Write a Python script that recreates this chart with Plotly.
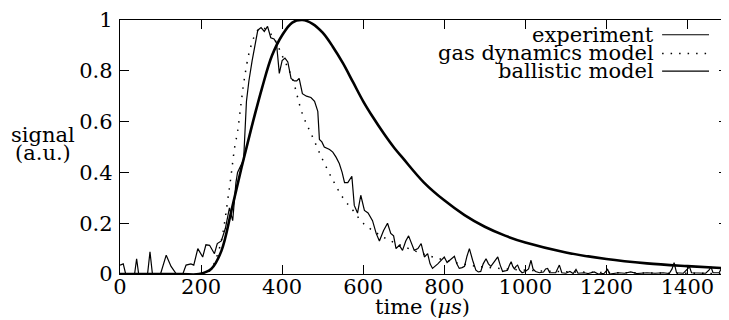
import plotly.graph_objects as go

# ---------------- data ----------------
exp_t = [0, 8, 14, 30, 36, 41, 46, 62, 68, 74, 80, 100, 106, 114, 126, 139, 155,
         163, 175, 182, 192, 204, 212, 221, 233, 240, 250, 260, 270, 278, 286, 290,
         299, 305, 312, 318, 326, 333, 340, 348, 356, 364, 372, 380, 386, 393, 400,
         407, 414, 422, 430, 436, 442, 450, 460, 471, 480, 488, 492, 498, 504, 517,
         525, 533, 541, 548, 554, 562, 572, 578, 586, 594, 603, 612, 623, 632, 640,
         650, 660, 668, 675, 681, 689, 697, 705, 712, 719, 726, 735, 743, 751, 759,
         765, 771, 784, 792, 800, 807, 813, 819, 825, 831, 837, 844, 850, 856, 862,
         870, 878, 884, 890, 896, 903, 909, 915, 924, 932, 938, 944, 950, 956, 961,
         965, 969, 973, 977, 981, 986, 992, 1000, 1008, 1014, 1019, 1025, 1035, 1045,
         1050, 1055, 1060, 1075, 1084, 1090, 1100, 1110, 1118, 1125, 1130, 1145, 1155,
         1170, 1180, 1195, 1203, 1208, 1230, 1245, 1260, 1275, 1300, 1320, 1340, 1355,
         1362, 1367, 1373, 1390, 1400, 1405, 1410, 1430, 1445, 1453, 1458, 1463, 1478,
         1483, 1488, 1500]
exp_y = [0.035, 0.04, 0.0, 0.0, 0.0, 0.06, 0.0, 0.0, 0.0, 0.087, 0.0, 0.0, 0.03, 0.074, 0.03, 0.0, 0.0,
         0.035, 0.04, 0.035, 0.10, 0.067, 0.115, 0.113, 0.08, 0.12, 0.13, 0.18, 0.26, 0.21, 0.36, 0.40,
         0.43, 0.45, 0.68, 0.76, 0.84, 0.90, 0.96, 0.97, 0.955, 0.975, 0.93, 0.925, 0.91, 0.79, 0.84,
         0.85, 0.835, 0.77, 0.76, 0.76, 0.77, 0.71, 0.70, 0.695, 0.68, 0.64, 0.53, 0.52, 0.50, 0.49,
         0.48, 0.46, 0.435, 0.40, 0.36, 0.36, 0.385, 0.27, 0.24, 0.31, 0.25, 0.24, 0.21, 0.16, 0.13,
         0.17, 0.20, 0.16, 0.15, 0.10, 0.113, 0.093, 0.13, 0.15, 0.12, 0.093, 0.10, 0.12, 0.067, 0.08,
         0.04, 0.022, 0.04, 0.055, 0.067, 0.045, 0.054, 0.06, 0.07, 0.04, 0.022, 0.025, 0.03, 0.07, 0.10,
         0.054, 0.015, 0.008, 0.01, 0.04, 0.06, 0.04, 0.03, 0.05, 0.067, 0.035, 0.01, 0.012, 0.015, 0.035,
         0.048, 0.03, 0.02, 0.03, 0.035, 0.015, 0.005, 0.01, 0.02, 0.054, 0.02, 0.01, 0.005, 0.008,
         0.02, 0.022, 0.005, 0.005, 0.035, 0.005, 0.003, 0.01, 0.002, 0.018, 0.003, 0.005, 0.002,
         0.008, 0.0, 0.003, 0.018, 0.0, 0.005, 0.003, 0.008, 0.002, 0.005, 0.003, 0.005, 0.002,
         0.02, 0.045, 0.005, 0.003, 0.02, 0.028, 0.005, 0.005, 0.003, 0.015, 0.028, 0.005, 0.005,
         0.02, 0.005, 0.005]

gas_t = [200, 220, 245, 270, 283, 290, 299, 307, 320, 336, 350, 375, 400, 425, 450,
         475, 500, 525, 550, 575, 600, 650, 700, 750, 800, 850, 900, 1000, 1100, 1200,
         1300, 1400, 1500]
gas_y = [0.0, 0.01, 0.10, 0.34, 0.50, 0.56, 0.676, 0.77, 0.88, 0.95, 0.97, 0.94, 0.86, 0.77, 0.63,
         0.54, 0.45, 0.37, 0.30, 0.25, 0.20, 0.145, 0.108, 0.078, 0.055, 0.038, 0.027, 0.015, 0.009,
         0.006, 0.004, 0.003, 0.002]

bal_t = [0, 150, 195, 225, 250, 275, 300, 325, 350, 375, 400, 425, 450, 475, 500, 525,
         550, 575, 600, 625, 650, 675, 700, 750, 800, 850, 900, 950, 1000, 1100, 1200,
         1300, 1400, 1500]
bal_y = [0.0, 0.0, 0.0, 0.02, 0.09, 0.25, 0.42, 0.58, 0.73, 0.86, 0.94, 0.99, 1.0, 0.985, 0.95, 0.895,
         0.83, 0.755, 0.68, 0.615, 0.555, 0.50, 0.452, 0.36, 0.29, 0.232, 0.186, 0.151, 0.124, 0.085,
         0.059, 0.042, 0.031, 0.022]

x_ticks = [0, 200, 400, 600, 800, 1000, 1200, 1400]
y_ticks = [0, 0.2, 0.4, 0.6, 0.8, 1]
y_tick_text = ["0", "0.2", "0.4", "0.6", "0.8", "1"]

legend_names = ["experiment", "gas dynamics model", "ballistic model"]

# ---------------- figure ----------------
FONT = "DejaVu Serif"
FS = 21
OFF = 8  # default page body margin
W, H = 729 - OFF, 320 - OFF
ML, MR, MT, MB = 120 - OFF, 0, 16 - OFF, 46
PW, PH = W - ML - MR, H - MT - MB

fig = go.Figure()
fig.add_trace(go.Scatter(x=exp_t, y=exp_y, mode="lines",
                         line=dict(color="black", width=1.2), showlegend=False))
fig.add_trace(go.Scatter(x=gas_t, y=gas_y, mode="lines", line_shape="spline",
                         line=dict(color="black", width=1.5, dash="1.5px,7px"), showlegend=False))
fig.add_trace(go.Scatter(x=bal_t, y=bal_y, mode="lines", line_shape="spline",
                         line=dict(color="black", width=2.6), showlegend=False))

axis_common = dict(showline=True, linecolor="black", linewidth=1.3, mirror="ticks",
                   ticks="inside", ticklen=9, tickwidth=1.2, tickcolor="black",
                   showgrid=False, zeroline=False, ticklabeloverflow="allow",
                   tickfont=dict(family=FONT, size=FS, color="black"))
fig.update_xaxes(range=[0, 1500], tickvals=x_ticks, ticklabelstandoff=-6, **axis_common)
fig.update_yaxes(range=[0, 1], tickvals=y_ticks, ticktext=y_tick_text,
                 ticklabelstandoff=2, **axis_common)

def px2paper(px, py):
    # page pixel -> paper coords
    return (px - OFF - ML) / PW, (H - MB - (py - OFF)) / PH

annotations = []
shapes = []
rows_y = [31, 50, 68]
dashes = ["solid", "1.5px,7px", "solid"]
widths = [1.2, 1.5, 1.2]
for name, ry, d, w in zip(legend_names, rows_y, dashes, widths):
    xp, yp = px2paper(657, ry)
    annotations.append(dict(x=xp, y=yp, xref="paper", yref="paper", text=name,
                            showarrow=False, xanchor="right", yanchor="middle",
                            font=dict(family=FONT, size=FS, color="black")))
    x0, y0 = px2paper(663, ry)
    x1, _ = px2paper(710, ry)
    shapes.append(dict(type="line", xref="paper", yref="paper", x0=x0, x1=x1, y0=y0, y1=y0,
                       line=dict(color="black", width=w, dash=d)))

# axis titles
for txt, py in [("signal", 133), ("(a.u.)", 151)]:
    xp, yp = px2paper(43, py)
    annotations.append(dict(x=xp, y=yp, xref="paper", yref="paper", text=txt,
                            showarrow=False, xanchor="center", yanchor="middle",
                            font=dict(family=FONT, size=FS, color="black")))
xp, yp = px2paper(423, 308)
annotations.append(dict(x=xp, y=yp, xref="paper", yref="paper", text="time (<i>μs</i>)",
                        showarrow=False, xanchor="center", yanchor="middle",
                        font=dict(family=FONT, size=FS, color="black")))

fig.update_layout(width=W, height=H, margin=dict(l=ML, r=MR, t=MT, b=MB),
                  paper_bgcolor="white", plot_bgcolor="white",
                  annotations=annotations, shapes=shapes, showlegend=False)

fig.write_html("out.html")
